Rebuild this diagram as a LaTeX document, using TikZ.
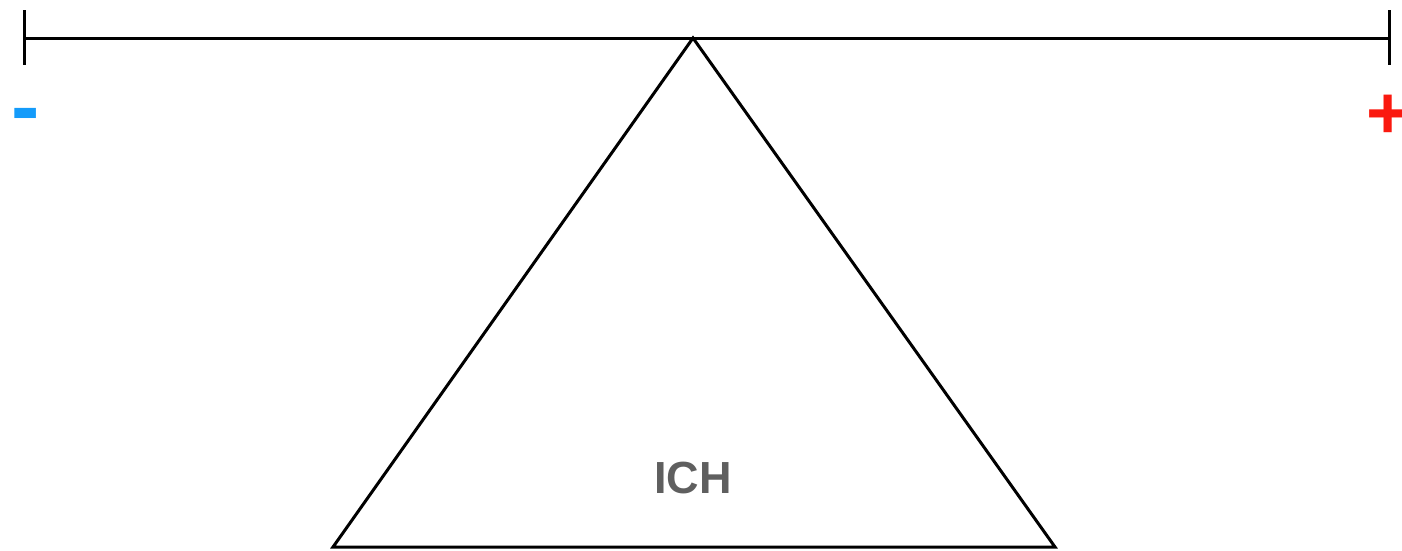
\documentclass[tikz,border=0pt]{standalone}
\usepackage{fontspec}
\setmainfont{Liberation Sans}
\definecolor{minusblue}{RGB}{20,155,250}
\definecolor{plusred}{RGB}{250,25,15}
\definecolor{ichgray}{RGB}{95,95,95}
\tikzset{
  beam/.style={line width=3pt, line cap=butt},
  tri/.style={line width=3pt, line join=miter},
  signtext/.style={inner sep=0pt, anchor=base, font=\bfseries\fontsize{#1}{#1}\selectfont},
  ichlabel/.style={inner sep=0pt, text=ichgray, font=\bfseries\fontsize{45}{45}\selectfont},
}
\begin{document}
\begin{tikzpicture}[x=1pt,y=-1pt]
\useasboundingbox (0,0) rectangle (1402,550);
\coordinate (L) at (24,38);
\coordinate (R) at (1389,38);
\coordinate (Ltop) at (24,10);
\coordinate (Lbot) at (24,65);
\coordinate (Rtop) at (1389,10);
\coordinate (Rbot) at (1389,65);
\coordinate (apex) at (693,38);
\coordinate (bl) at (333,547);
\coordinate (br) at (1055,547);
\draw[beam] (L) -- (R);
\draw[beam] (Ltop) -- (Lbot);
\draw[beam] (Rtop) -- (Rbot);
\draw[tri] (apex) -- (br) -- (bl) -- cycle;
\node[ichlabel] (ich) at (693,478) {ICH};
\node[signtext=85, text=minusblue] (minus) at (26,135) {-};
\node[signtext=74, text=plusred] (plus) at (1388,138) {+};
\end{tikzpicture}
\end{document}
